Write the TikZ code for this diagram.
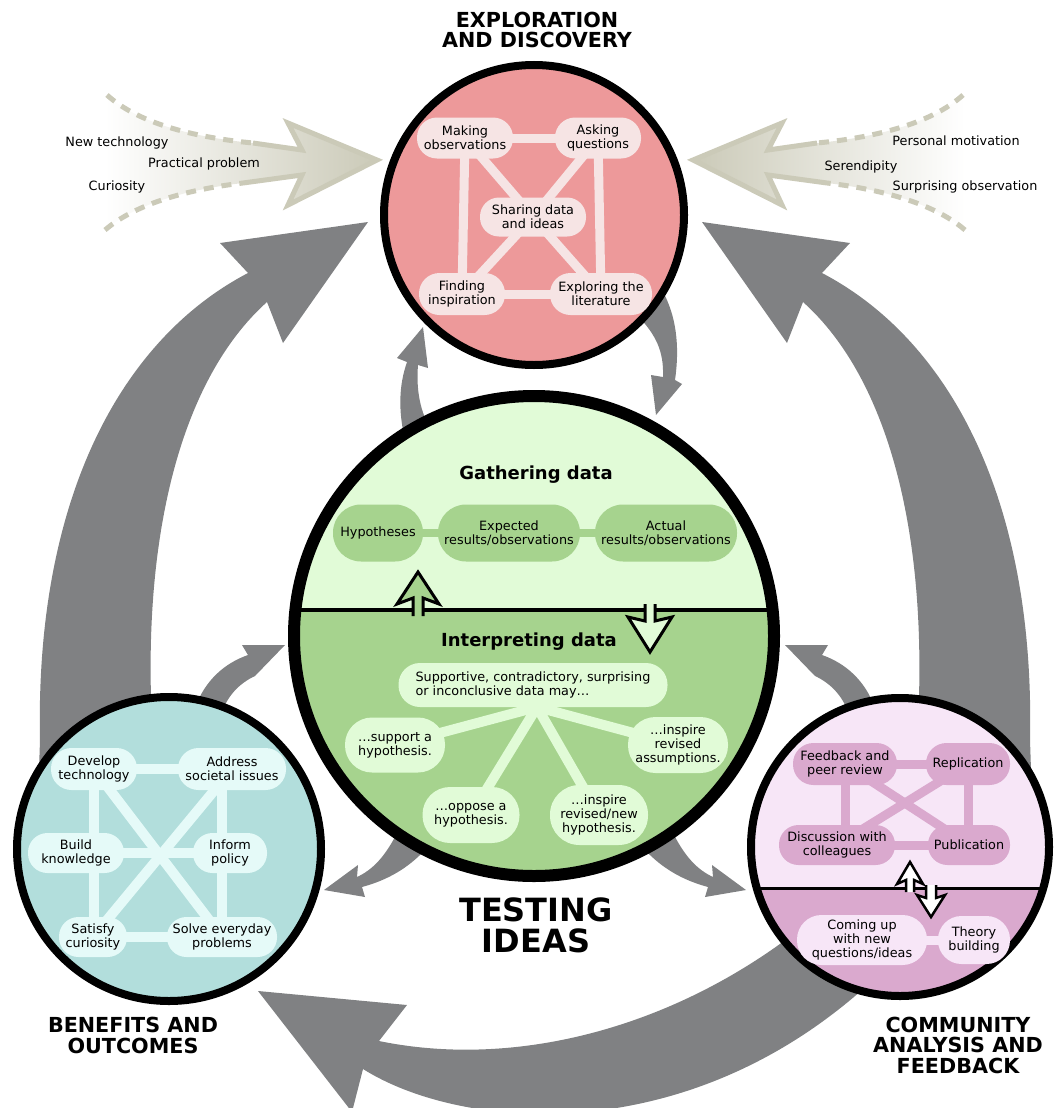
\documentclass[tikz,border=0pt]{standalone}
\usepackage{fontspec}
\setmainfont{DejaVu Sans}
\pgfdeclarelayer{bg}
\pgfdeclarelayer{mid}
\pgfsetlayers{bg,mid,main}
\definecolor{redfill}{HTML}{ED999A}
\definecolor{rednode}{HTML}{F6E4E4}
\definecolor{greenlight}{HTML}{E1FBD7}
\definecolor{greendark}{HTML}{A6D38E}
\definecolor{tealfill}{HTML}{B2DEDC}
\definecolor{tealnode}{HTML}{E5FAF8}
\definecolor{pinklight}{HTML}{F7E6F7}
\definecolor{pinkdark}{HTML}{DAA9CE}
\definecolor{arrowgray}{HTML}{808183}
\definecolor{beige}{HTML}{CBCAB8}
\newcommand{\bodyfont}{\fontsize{12.8}{14}\selectfont}
\newcommand{\titlefont}{\fontsize{20.7}{20.5}\selectfont\bfseries}
\newcommand{\subtitlefont}{\fontsize{18}{18}\selectfont\bfseries}
\newcommand{\bigtitlefont}{\fontsize{32}{31}\selectfont\bfseries}
\tikzset{
 pill/.style={fill=#1, align=center, inner sep=0pt, font=\bodyfont},
 pw/.style 2 args={minimum width=#1pt, minimum height=#2pt, rounded corners=#2*0.5pt-0.5pt},
 conn/.style={draw=#1, line width=9pt},
 garrow/.style={fill=arrowgray},
 lbl/.style={font=\bodyfont, anchor=base, inner sep=0pt},
 sectitle/.style={font=\titlefont, align=center, inner sep=0pt},
 hollow/.style={draw=black, line width=3pt, line join=miter},
 dashcurve/.style={draw=beige, line width=5pt, dash pattern=on 10pt off 8pt},
 beigehead/.style={draw=beige, line width=5pt, line join=miter},
}
\begin{document}
\begin{tikzpicture}[x=1pt,y=-1pt]
\useasboundingbox (0,0) rectangle (1055,1108);

\begin{pgfonlayer}{bg}
% ---------- beige incoming arrows ----------
\shade[left color=white, right color=beige] (107,95) .. controls (140,125) and (200,138) .. (253,143) -- (302,150) -- (288,123) -- (377,160) -- (288,205) -- (302,175) -- (243,183) .. controls (200,188) and (140,200) .. (105,230) -- cycle;
\draw[dashcurve] (107,95) .. controls (140,125) and (200,138) .. (253,143);
\draw[dashcurve] (105,230) .. controls (140,200) and (200,188) .. (243,183);
\draw[beigehead] (253,143) -- (302,150) -- (288,123) -- (377,160) -- (288,205) -- (302,175) -- (243,183);

\shade[left color=beige, right color=white] (963,95) .. controls (930,125) and (870,138) .. (817,143) -- (768,150) -- (782,123) -- (693,160) -- (782,205) -- (768,175) -- (827,183) .. controls (870,188) and (930,200) .. (965,230) -- cycle;
\draw[dashcurve] (963,95) .. controls (930,125) and (870,138) .. (817,143);
\draw[dashcurve] (965,230) .. controls (930,200) and (870,188) .. (827,183);
\draw[beigehead] (817,143) -- (768,150) -- (782,123) -- (693,160) -- (782,205) -- (768,175) -- (827,183);

% ---------- big gray arrows ----------
\fill[garrow] (38,800) -- (40,740) .. controls (35,500) and (120,340) .. (248,273) -- (220,243) -- (368,222) -- (283,343) -- (267,302) .. controls (180,380) and (140,540) .. (153,740) -- (153,790) -- cycle;
\fill[garrow] (1032,800) -- (1030,740) .. controls (1035,500) and (950,340) .. (822,273) -- (850,243) -- (702,222) -- (787,343) -- (803,302) .. controls (890,380) and (930,540) .. (917,740) -- (917,790) -- cycle;
\fill[garrow] (805,925) .. controls (680,1025) and (520,1070) .. (379,1041) -- (407,1005) -- (258,991) -- (352,1112) -- (363,1069) .. controls (460,1130) and (680,1150) .. (862,990) -- cycle;

% ---------- small gray arrows ----------
\fill[garrow] (640,318) .. controls (655,335) and (664,350) .. (663,377) -- (651,375) -- (656,415) -- (682,384) -- (675,380) .. controls (680,345) and (676,315) .. (662,290) -- cycle;
\fill[garrow] (405,440) .. controls (398,410) and (399,385) .. (407,362) -- (397,358) -- (423,327) -- (428,368) -- (418,365) .. controls (416,390) and (420,412) .. (432,432) -- cycle;
\fill[garrow] (195,708) .. controls (205,680) and (225,663) .. (248,655) -- (242,645) -- (285,645) -- (255,676) .. controls (240,683) and (228,695) .. (222,712) -- cycle;
\fill[garrow] (875,708) .. controls (865,680) and (845,663) .. (822,655) -- (828,645) -- (785,645) -- (815,676) .. controls (830,683) and (842,695) .. (848,712) -- cycle;
\fill[garrow] (396,835) .. controls (384,858) and (372,870) .. (357,877) -- (358,865) -- (324,890) -- (365,897) -- (362,887) .. controls (388,880) and (408,868) .. (425,850) -- cycle;
\fill[garrow] (674,835) .. controls (686,858) and (698,870) .. (713,877) -- (712,865) -- (746,890) -- (705,897) -- (708,887) .. controls (682,880) and (662,868) .. (645,850) -- cycle;

% ---------- circles ----------
\filldraw[fill=redfill, line width=8pt] (534,215) circle[radius=150pt];

\fill[greenlight] (534,636) circle[radius=240pt];
\begin{scope}
\clip (534,636) circle[radius=240pt];
\fill[greendark] (280,610) rectangle (790,890);
\draw[line width=4pt] (280,610) -- (790,610);
\end{scope}
\draw[line width=12pt] (534,636) circle[radius=240pt];
\fill[greendark] (413,616) -- (413,598) -- (397,604) -- (418,572) -- (439,604) -- (423,598) -- (423,616) -- cycle;
\draw[hollow] (413,616) -- (413,598) -- (397,604) -- (418,572) -- (439,604) -- (423,598) -- (423,616);
\fill[greenlight] (645,604) -- (645,621) -- (628,617) -- (650,652) -- (672,617) -- (655,621) -- (655,604) -- cycle;
\draw[hollow] (645,604) -- (645,621) -- (628,617) -- (650,652) -- (672,617) -- (655,621) -- (655,604);

\filldraw[fill=tealfill, line width=8pt] (169,849) circle[radius=152pt];

\fill[pinklight] (900,847) circle[radius=149pt];
\begin{scope}
\clip (900,847) circle[radius=149pt];
\fill[pinkdark] (740,888) rectangle (1060,1000);
\draw[line width=3pt] (740,888) -- (1060,888);
\end{scope}
\draw[line width=8pt] (900,847) circle[radius=149pt];
\fill[white] (906,892) -- (906,880) -- (897,884) -- (910,862) -- (923,884) -- (914,880) -- (914,892) -- cycle;
\draw[hollow, line width=2.5pt] (906,892) -- (906,880) -- (897,884) -- (910,862) -- (923,884) -- (914,880) -- (914,892);
\fill[white] (926,885) -- (926,898) -- (917,895) -- (931,917) -- (945,895) -- (936,898) -- (936,885) -- cycle;
\draw[hollow, line width=2.5pt] (926,885) -- (926,898) -- (917,895) -- (931,917) -- (945,895) -- (936,898) -- (936,885);
\end{pgfonlayer}

% ---------- nodes: exploration ----------
\node[pill=rednode, pw={96}{41}] (mo) at (465,138) {Making\\observations};
\node[pill=rednode, pw={86}{41}] (aq) at (598,138) {Asking\\questions};
\node[pill=rednode, pw={106}{39}] (sd) at (533,217) {Sharing data\\and ideas};
\node[pill=rednode, pw={86}{42}] (fi) at (462,294) {Finding\\inspiration};
\node[pill=rednode, pw={102}{42}] (el) at (601,294) {Exploring the\\literature};

% ---------- nodes: testing ----------
\node[pill=greendark, pw={90}{57}] (hy) at (378,533) {Hypotheses};
\node[pill=greendark, pw={142}{57}] (ex) at (509,533) {Expected\\results/observations};
\node[pill=greendark, pw={142}{57}] (ac) at (666,533) {Actual\\results/observations};
\node[pill=greenlight, pw={269}{44}, align=left] (sp) at (533,685) {Supportive, contradictory, surprising\\or inconclusive data may…};
\node[pill=greenlight, pw={100}{55}] (s1) at (395,745) {…support a\\hypothesis.};
\node[pill=greenlight, pw={97}{56}] (s2) at (471,815) {…oppose a\\hypothesis.};
\node[pill=greenlight, pw={98}{60}] (s3) at (599,815) {…inspire\\revised/new\\hypothesis.};
\node[pill=greenlight, pw={100}{56}] (s4) at (678,745) {…inspire\\revised\\assumptions.};
\coordinate (fan) at (537,707);

% ---------- nodes: benefits ----------
\node[pill=tealnode, pw={86}{42}] (dt) at (94,769) {Develop\\technology};
\node[pill=tealnode, pw={108}{42}] (as) at (232,769) {Address\\societal issues};
\node[pill=tealnode, pw={96}{40}] (bk) at (76,853) {Build\\knowledge};
\node[pill=tealnode, pw={74}{40}] (ip) at (230,853) {Inform\\policy};
\node[pill=tealnode, pw={68}{40}] (sc) at (93,937) {Satisfy\\curiosity};
\node[pill=tealnode, pw={110}{40}] (se) at (222,937) {Solve everyday\\problems};

% ---------- nodes: community ----------
\node[pill=pinkdark, pw={104}{42}] (fb) at (845,764) {Feedback and\\peer review};
\node[pill=pinkdark, pw={84}{42}] (rp) at (968,764) {Replication};
\node[pill=pinkdark, pw={116}{40}] (dc) at (837,845) {Discussion with\\colleagues};
\node[pill=pinkdark, pw={82}{40}] (pb) at (969,845) {Publication};
\node[pill=pinklight, pw={130}{50}] (cu) at (862,940) {Coming up\\with new\\questions/ideas};
\node[pill=pinklight, pw={72}{48}] (tb) at (974,940) {Theory\\building};

% ---------- connectors ----------
\begin{pgfonlayer}{mid}
\draw[conn=rednode] (mo.center) -- (aq.center);
\draw[conn=rednode] (fi.center) -- (el.center);
\draw[conn=rednode] (mo.center) -- (fi.center);
\draw[conn=rednode] (aq.center) -- (el.center);
\draw[conn=rednode] (mo.center) -- (sd.center) -- (el.center);
\draw[conn=rednode] (aq.center) -- (sd.center) -- (fi.center);

\draw[conn=greendark, line width=8pt] (hy.center) -- (ex.center) -- (ac.center);
\draw[conn=greenlight, line width=10pt] (fan) -- (s1.center);
\draw[conn=greenlight, line width=10pt] (fan) -- (s2.center);
\draw[conn=greenlight, line width=10pt] (fan) -- (s3.center);
\draw[conn=greenlight, line width=10pt] (fan) -- (s4.center);

\draw[conn=tealnode, line width=10pt] (dt.center) -- (as.center);
\draw[conn=tealnode, line width=10pt] (bk.center) -- (ip.center);
\draw[conn=tealnode, line width=10pt] (sc.center) -- (se.center);
\draw[conn=tealnode, line width=10pt] (dt.center) -- (dt.center |- sc.center);
\draw[conn=tealnode, line width=10pt] (as.center -| se.center) -- (se.center);
\draw[conn=tealnode, line width=10pt] (dt.center) -- (se.center);
\draw[conn=tealnode, line width=10pt] (as.center) -- (sc.center);

\draw[conn=pinkdark] (fb.center) -- (rp.center);
\draw[conn=pinkdark] (dc.center) -- (pb.center);
\draw[conn=pinkdark] (fb.center) -- (fb.center |- dc.center);
\draw[conn=pinkdark] (rp.center) -- (rp.center |- pb.center);
\draw[conn=pinkdark] (fb.center) -- (pb.center);
\draw[conn=pinkdark] (rp.center) -- (dc.center);
\draw[conn=pinklight] (cu.center) -- (tb.center);
\end{pgfonlayer}

% ---------- titles and labels ----------
\node[sectitle] (t1) at (537,30) {EXPLORATION\\AND DISCOVERY};
\node[sectitle] (t2) at (133,1035.5) {BENEFITS AND\\OUTCOMES};
\node[sectitle] (t3) at (958,1045) {COMMUNITY\\ANALYSIS AND\\FEEDBACK};
\node[font=\bigtitlefont, align=center, inner sep=0pt] (t4) at (536,925) {TESTING\\IDEAS};
\node[font=\subtitlefont, anchor=base, inner sep=0pt] (gd) at (536,479) {Gathering data};
\node[font=\subtitlefont, anchor=base, inner sep=0pt] (idt) at (529,646) {Interpreting data};

\node[lbl] (l1) at (117,146) {New technology};
\node[lbl] (l2) at (204,167) {Practical problem};
\node[lbl] (l3) at (117,190) {Curiosity};
\node[lbl] (r1) at (956,145) {Personal motivation};
\node[lbl] (r2) at (861,170) {Serendipity};
\node[lbl] (r3) at (965,190) {Surprising observation};
\end{tikzpicture}
\end{document}
